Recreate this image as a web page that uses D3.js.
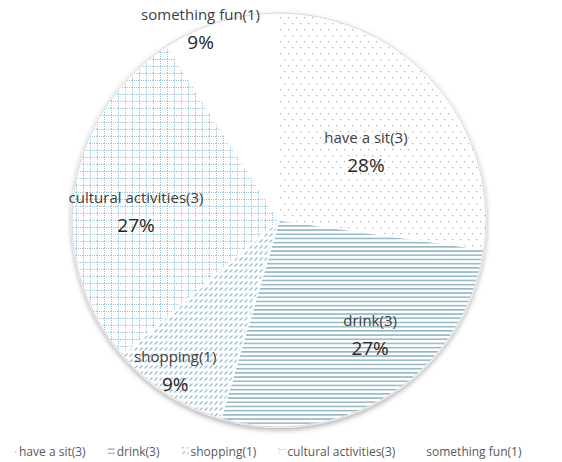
<!DOCTYPE html>
<html lang="en">
	<head>
		<meta charset="utf-8">
		<title>Pie chart</title>
		<script type="text/javascript" src="https://d3js.org/d3.v7.min.js"></script>
		<style>
			body { margin: 0; background: #fff; }
			text { font-family: "Open Sans", Lato, sans-serif; }
		</style>
	</head>
	<body>
		<script type="text/javascript">

			// data
			var categories = ["have a sit", "drink", "shopping", "cultural activities", "something fun"];
			var counts = [3, 3, 1, 3, 1];
			var pctLabels = ["28%", "27%", "9%", "27%", "9%"];

			var w = 562, h = 462;
			var cx = 279, cy = 220, r = 207;

			var patternIds = ["pDots", "pHoriz", "pDiag", "pGrid", "pNone"];
			// best fit label placement: fraction of the radius and angle shift (deg) from the slice middle
			var labelRadius = [0.536, 0.705, 0.88, 0.692, 1.0];
			var labelShift = [2.5, -5.9, 2, -4.6, -5.9];

			var svg = d3.select("body")
						.append("svg")
						.attr("width", w)
						.attr("height", h);

			var defs = svg.append("defs");

			// dotted
			var p1 = defs.append("pattern").attr("id", "pDots")
				.attr("patternUnits", "userSpaceOnUse").attr("width", 8).attr("height", 12);
			p1.append("rect").attr("width", 8).attr("height", 12).attr("fill", "#fff");
			p1.append("rect").attr("x", 1).attr("y", 1).attr("width", 1.2).attr("height", 1.2).attr("fill", "#a7adb5");
			p1.append("rect").attr("x", 5).attr("y", 7).attr("width", 1.2).attr("height", 1.2).attr("fill", "#a7adb5");

			// horizontal lines
			var p2 = defs.append("pattern").attr("id", "pHoriz")
				.attr("patternUnits", "userSpaceOnUse").attr("width", 8).attr("height", 4.2);
			p2.append("rect").attr("width", 8).attr("height", 4.2).attr("fill", "#fff");
			p2.append("rect").attr("y", 1).attr("width", 8).attr("height", 1.3).attr("fill", "#7fa9ba");

			// small diagonal dashes
			var p3 = defs.append("pattern").attr("id", "pDiag")
				.attr("patternUnits", "userSpaceOnUse").attr("width", 5).attr("height", 6);
			p3.append("rect").attr("width", 5).attr("height", 6).attr("fill", "#fff");
			p3.append("line").attr("x1", 0.5).attr("y1", 4.5).attr("x2", 3.5).attr("y2", 1.5)
				.attr("stroke", "#8dbbd3").attr("stroke-width", 1.1);

			// dashed grid
			var p4 = defs.append("pattern").attr("id", "pGrid")
				.attr("patternUnits", "userSpaceOnUse").attr("width", 7).attr("height", 7);
			p4.append("rect").attr("width", 7).attr("height", 7).attr("fill", "#fff");
			p4.append("line").attr("x1", 0).attr("y1", 0.5).attr("x2", 7).attr("y2", 0.5)
				.attr("stroke", "#9cc6da").attr("stroke-width", 1).attr("stroke-dasharray", "1,1");
			p4.append("line").attr("x1", 0.5).attr("y1", 0).attr("x2", 0.5).attr("y2", 7)
				.attr("stroke", "#9cc6da").attr("stroke-width", 1).attr("stroke-dasharray", "1,1");

			var p5 = defs.append("pattern").attr("id", "pNone")
				.attr("patternUnits", "userSpaceOnUse").attr("width", 4).attr("height", 4);
			p5.append("rect").attr("width", 4).attr("height", 4).attr("fill", "#fff");

			var shadow = defs.append("filter").attr("id", "shadow")
				.attr("x", "-10%").attr("y", "-10%").attr("width", "120%").attr("height", "120%");
			shadow.append("feDropShadow").attr("dx", 0).attr("dy", 2.5).attr("stdDeviation", 2.5)
				.attr("flood-color", "#000").attr("flood-opacity", 0.3);

			var pie = d3.pie().sort(null).value(function(d) { return d; });
			var arcs = pie(counts);

			var arc = d3.arc().innerRadius(0).outerRadius(r);

			var g = svg.append("g")
						.attr("transform", "translate(" + cx + "," + cy + ")");

			// outline + shadow behind the slices
			g.append("circle")
				.attr("r", r)
				.attr("fill", "#fff")
				.attr("stroke", "#d4d4d4")
				.attr("stroke-width", 1.5)
				.attr("filter", "url(#shadow)");

			g.selectAll(".slice")
				.data(arcs)
				.enter()
				.append("path")
					.attr("class", "slice")
					.attr("d", arc)
					.attr("fill", function(d, i) { return "url(#" + patternIds[i] + ")"; })
					.attr("stroke", "#fff")
					.attr("stroke-width", 1.5);

			g.append("circle")
				.attr("r", r)
				.attr("fill", "none")
				.attr("stroke", "#d9d9d9")
				.attr("stroke-width", 1);

			// labels
			var lab = g.selectAll(".lab")
				.data(arcs)
				.enter()
				.append("g")
					.attr("class", "lab")
					.attr("transform", function(d, i) {
						var a = (d.startAngle + d.endAngle) / 2 + labelShift[i] * Math.PI / 180;
						var rr = r * labelRadius[i];
						return "translate(" + (rr * Math.sin(a)) + "," + (-rr * Math.cos(a)) + ")";
					});

			lab.append("text")
				.attr("text-anchor", "middle")
				.attr("y", -8)
				.attr("fill", "#404040")
				.style("font-size", "15px")
				.text(function(d, i) { return categories[i] + "(" + counts[i] + ")"; });

			lab.append("text")
				.attr("text-anchor", "middle")
				.attr("y", 21)
				.attr("fill", "#262626")
				.style("font-size", "19px")
				.text(function(d, i) { return pctLabels[i]; });

			// legend
			var legend = svg.append("g").attr("class", "legend");
			var lx = 10, ly = 456, gap = 22;
			categories.forEach(function(c, i) {
				var item = legend.append("g").attr("transform", "translate(" + lx + "," + ly + ")");
				item.append("rect")
					.attr("x", 0).attr("y", -9)
					.attr("width", 7).attr("height", 7)
					.attr("fill", "url(#" + patternIds[i] + ")");
				var t = item.append("text")
					.attr("x", 9)
					.attr("fill", "#595959")
					.style("font-size", "12px")
					.text(c + "(" + counts[i] + ")");
				lx += 9 + t.node().getComputedTextLength() + gap;
			});

		</script>
	</body>
</html>
